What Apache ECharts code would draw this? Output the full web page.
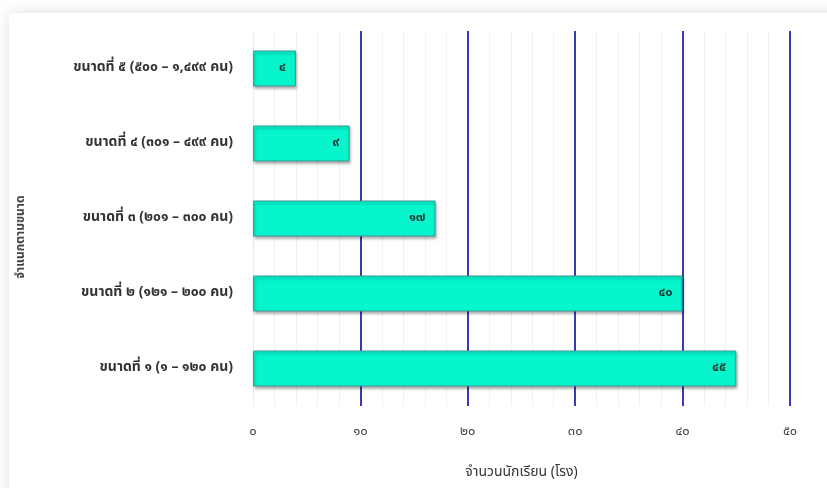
<!DOCTYPE html>
<html><head><meta charset="utf-8">
<script src="https://cdn.jsdelivr.net/npm/echarts@6/dist/echarts.min.js"></script>
<style>html,body{margin:0;padding:0;background:#fff;}#c{width:827px;height:488px;}</style>
</head><body><div id="c"></div>
<script>
const categories = [
  'ขนาดที่ ๑ (๑ – ๑๒๐ คน)',
  'ขนาดที่ ๒ (๑๒๑ – ๒๐๐ คน)',
  'ขนาดที่ ๓ (๒๐๑ – ๓๐๐ คน)',
  'ขนาดที่ ๔ (๓๐๑ – ๔๙๙ คน)',
  'ขนาดที่ ๕ (๕๐๐ – ๑,๔๙๙ คน)'
];
const schoolCounts = [45, 40, 17, 9, 4];
const xTitle = 'จำนวนนักเรียน (โรง)';
const yTitle = 'จำแนกตามขนาด';

const thaiDigits = '๐๑๒๓๔๕๖๗๘๙';
function toThai(n){ return String(n).replace(/[0-9]/g, d => thaiDigits[+d]); }
const FONT = '"Noto Sans Thai","Noto Sans","DejaVu Sans",sans-serif';

const chart = echarts.init(document.getElementById('c'));
chart.setOption({
  backgroundColor: '#fff',
  animation: false,
  graphic: [{
    type: 'rect', z: -10, silent: true,
    shape: { x: 9, y: 13, width: 840, height: 500 },
    style: { fill: '#fff', shadowBlur: 14, shadowColor: 'rgba(0,0,0,0.13)', shadowOffsetX: 0, shadowOffsetY: 0 }
  }, {
    type: 'text', silent: true, x: 22, y: 237, rotation: Math.PI / 2,
    style: { text: yTitle, fontFamily: FONT, fontSize: 12, fontWeight: 'bold', fill: '#444',
      textAlign: 'center', textVerticalAlign: 'middle' }
  }],
  grid: { left: 253, right: 37, top: 31, bottom: 82, containLabel: false },
  xAxis: {
    type: 'value', min: 0, max: 50, interval: 10,
    name: xTitle, nameLocation: 'middle', nameGap: 60,
    nameTextStyle: { fontFamily: FONT, fontSize: 14, color: '#333' },
    axisLine: { show: false },
    axisTick: { show: false },
    axisLabel: { formatter: v => toThai(v), fontFamily: FONT, fontSize: 13, color: '#444', margin: 20 },
    splitLine: { show: true, showMinLine: false, lineStyle: { color: '#3a3ab5', width: 2 } },
    minorTick: { show: false, splitNumber: 5 },
    minorSplitLine: { show: true, lineStyle: { color: '#f0f0f0', width: 1 } }
  },
  yAxis: {
    type: 'category', data: categories,
    axisLine: { show: true, lineStyle: { color: '#ebebeb', width: 1 } },
    axisTick: { show: false },
    axisLabel: { fontFamily: FONT, fontSize: 14, color: '#333', fontWeight: 'bold', margin: 20 }
  },
  series: [{
    type: 'bar', data: schoolCounts, barCategoryGap: '52%',
    itemStyle: { color: '#06f5cd', borderColor: '#3c9a98', borderWidth: 1,
      shadowBlur: 3, shadowColor: 'rgba(0,0,0,0.35)', shadowOffsetX: 1, shadowOffsetY: 2 },
    label: { show: true, position: 'insideRight', distance: 10, formatter: p => toThai(p.value),
      fontFamily: FONT, fontSize: 13, color: '#1f3d38', fontWeight: 'bold' }
  }]
});
</script></body></html>
